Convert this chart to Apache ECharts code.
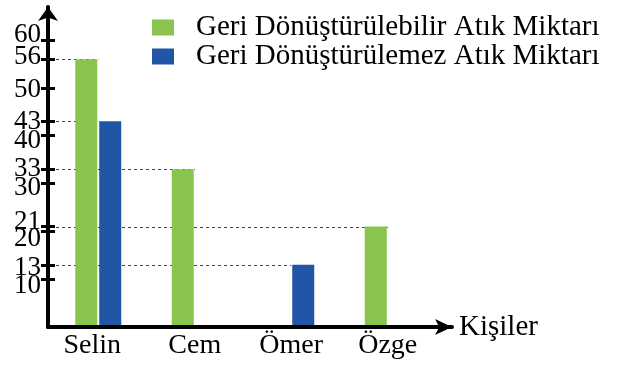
<!DOCTYPE html>
<html>
<head>
<meta charset="utf-8">
<script src="https://cdn.jsdelivr.net/npm/echarts@6/dist/echarts.min.js"></script>
<style>
  html, body { margin: 0; padding: 0; background: #fff; }
  #chart { width: 617px; height: 365px; }
</style>
</head>
<body>
<div id="chart"></div>
<script>
// ---- data ----
const categories = ['Selin', 'Cem', 'Ömer', 'Özge'];
const recyclable = [56, 33, null, 21];
const nonRecyclable = [43, null, 13, null];
const yTicks = [10, 13, 20, 21, 30, 33, 40, 43, 50, 56, 60];
const seriesNames = ['Geri Dönüştürülebilir Atık Miktarı', 'Geri Dönüştürülemez Atık Miktarı'];
const xAxisName = 'Kişiler';
const yMax = 60;

// ---- layout & style ----
const FONT = 'Liberation Serif';
const GREEN = '#89C44F';
const BLUE = '#2155A5';
const W = 617, H = 365;
const axisX = 48;          // vertical axis line
const axisBottom = 327;    // horizontal axis line
const plotTop = 40;        // pixel row of yMax
const arrowTop = 7;        // end of the vertical axis line
const arrowRight = 452;    // end of the horizontal axis line
const barGridLeft = 50, barGridRight = 436;

// vertical nudge (px) for crowded tick labels
const labelNudge = { 60: -5, 56: -2, 50: 2, 43: 1, 40: 5, 33: 0, 30: 4, 21: -5, 20: 8, 13: 3, 10: 7 };
const nudgeKey = n => (n < 0 ? 'u' + (-n) : 'd' + n);
const rich = {};
Object.values(labelNudge).forEach(n => {
  const p = Math.abs(n) * 2;
  rich[nudgeKey(n)] = {
    fontFamily: FONT, fontSize: 27, color: '#000',
    padding: n < 0 ? [0, 0, p, 0] : [p, 0, 0, 0]
  };
});

// round tens and bar values sit on separate label rows so none get culled
const tensLabels = yTicks.filter(v => v % 10 === 0);
const valueLabels = yTicks.filter(v => v % 10 !== 0);

// the frame axes reach above yMax; keep the same value scale
const frameMax = yMax * (axisBottom - arrowTop) / (axisBottom - plotTop);

// dotted guides from the vertical axis to each bar top
const guideData = [];
[recyclable, nonRecyclable].forEach(values => {
  values.forEach((v, i) => { if (v != null) guideData.push([i, v]); });
});

function barSeries(name, values, color) {
  return {
    name: name,
    type: 'bar',
    xAxisIndex: 0,
    yAxisIndex: 0,
    data: values,
    barWidth: 22,
    barGap: '9%',
    itemStyle: { color: color },
    z: 2
  };
}

function labelAxis(values, withTicks) {
  return {
    type: 'value',
    gridIndex: 1,
    position: 'left',
    offset: 0,
    min: 0, max: frameMax,
    z: 3,
    axisLine: { show: false },
    axisTick: { show: withTicks, inside: false, length: 7, customValues: yTicks, lineStyle: { color: '#000', width: 3 } },
    axisLabel: {
      show: true, margin: 7, customValues: values,
      hideOverlap: false,
      showMinLabel: true,
      showMaxLabel: true,
      fontFamily: FONT, fontSize: 27, color: '#000',
      formatter: v => '{' + nudgeKey(labelNudge[v] || 0) + '|' + v + '}',
      rich: rich
    },
    splitLine: { show: false }
  };
}

const chart = echarts.init(document.getElementById('chart'), null, { renderer: 'canvas' });
chart.setOption({
  animation: false,
  backgroundColor: '#fff',
  legend: {
    orient: 'vertical',
    left: 152,
    top: 13,
    padding: 0,
    itemWidth: 22,
    itemHeight: 16,
    itemGap: 0,
    icon: 'rect',
    selectedMode: false,
    data: seriesNames,
    textStyle: {
      fontFamily: FONT, fontSize: 29, color: '#000',
      lineHeight: 16, padding: [0, 0, 12, 17]
    }
  },
  grid: [
    { left: barGridLeft, right: W - barGridRight, top: plotTop, bottom: H - axisBottom },
    { left: axisX, right: W - arrowRight, top: arrowTop, bottom: H - axisBottom }
  ],
  xAxis: [
    {
      type: 'category',
      gridIndex: 0,
      data: categories,
      axisLine: { show: false },
      axisTick: { show: false },
      axisLabel: {
        interval: 0,
        fontFamily: FONT, fontSize: 28, color: '#000', margin: 5,
        formatter: v => (v === 'Selin' ? '{l|' + v + '}' : v),
        rich: { l: { fontFamily: FONT, fontSize: 28, color: '#000', padding: [0, 12, 0, 0] } }
      }
    },
    {
      type: 'value',
      gridIndex: 1,
      min: 0, max: 1,
      z: 3,
      name: xAxisName,
      nameLocation: 'end',
      nameGap: 7,
      nameTextStyle: { fontFamily: FONT, fontSize: 29, color: '#000', verticalAlign: 'middle' },
      axisLine: { show: true, symbol: ['none', 'arrow'], symbolSize: [12, 17], lineStyle: { color: '#000', width: 4 } },
      axisTick: { show: false },
      axisLabel: { show: false },
      splitLine: { show: false }
    }
  ],
  yAxis: [
    {
      type: 'value',
      gridIndex: 0,
      min: 0, max: yMax,
      show: false
    },
    {
      type: 'value',
      gridIndex: 1,
      position: 'left',
      offset: 0,
      min: 0, max: frameMax,
      z: 3,
      axisLine: { show: true, symbol: ['none', 'arrow'], symbolSize: [15, 14], lineStyle: { color: '#000', width: 4 } },
      axisTick: { show: true, inside: true, length: 7, customValues: yTicks, lineStyle: { color: '#000', width: 3 } },
      axisLabel: { show: false },
      splitLine: { show: false }
    },
    labelAxis(tensLabels, true),
    labelAxis(valueLabels, false)
  ],
  series: [
    {
      type: 'custom',
      xAxisIndex: 0,
      yAxisIndex: 0,
      z: 1,
      silent: true,
      data: guideData,
      renderItem: function (params, api) {
        const p = api.coord([api.value(0), api.value(1)]);
        const y = Math.round(p[1]) + 0.5;
        return {
          type: 'line',
          shape: { x1: params.coordSys.x, y1: y, x2: p[0], y2: y },
          style: { stroke: '#444', lineWidth: 1, lineDash: [3, 3] }
        };
      }
    },
    barSeries(seriesNames[0], recyclable, GREEN),
    barSeries(seriesNames[1], nonRecyclable, BLUE)
  ]
});
</script>
</body>
</html>
